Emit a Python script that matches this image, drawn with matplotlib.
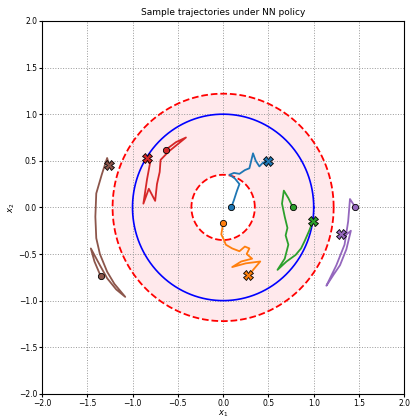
import numpy as np
import matplotlib
matplotlib.use("Agg")
import matplotlib.pyplot as plt

blue_x = [0.09, 0.12, 0.15, 0.18, 0.13, 0.07, 0.12, 0.18, 0.24, 0.29, 0.31, 0.33, 0.36, 0.40, 0.44, 0.49]
blue_y = [0.00, 0.08, 0.17, 0.25, 0.31, 0.35, 0.37, 0.36, 0.40, 0.42, 0.50, 0.58, 0.50, 0.44, 0.48, 0.50]
orange_x = [0.00, -0.02, 0.01, 0.03, 0.10, 0.18, 0.24, 0.29, 0.26, 0.32, 0.20, 0.10, 0.25, 0.41, 0.34, 0.28]
orange_y = [-0.17, -0.29, -0.35, -0.40, -0.44, -0.47, -0.42, -0.44, -0.50, -0.55, -0.58, -0.64, -0.60, -0.58, -0.66, -0.73]
green_x = [0.77, 0.72, 0.67, 0.65, 0.68, 0.71, 0.69, 0.72, 0.68, 0.60, 0.70, 0.80, 0.86, 0.90, 0.95, 0.99]
green_y = [0.00, 0.10, 0.18, 0.04, -0.10, -0.22, -0.30, -0.40, -0.55, -0.67, -0.58, -0.51, -0.44, -0.36, -0.25, -0.15]
purple_x = [1.46, 1.40, 1.38, 1.34, 1.25, 1.14, 1.22, 1.29, 1.36, 1.41, 1.35, 1.30]
purple_y = [0.00, 0.09, -0.15, -0.40, -0.62, -0.84, -0.72, -0.62, -0.45, -0.25, -0.30, -0.28]
red_x = [-0.63, -0.52, -0.41, -0.60, -0.69, -0.70, -0.73, -0.75, -0.82, -0.88, -0.84, -0.80, -0.82, -0.84]
red_y = [0.62, 0.70, 0.75, 0.60, 0.51, 0.38, 0.25, 0.07, 0.20, 0.04, 0.30, 0.51, 0.48, 0.53]
brown_x = [-1.35, -1.42, -1.46, -1.36, -1.28, -1.18, -1.08, -1.20, -1.28, -1.36, -1.40, -1.41, -1.40, -1.34, -1.28, -1.26]
brown_y = [-0.74, -0.58, -0.44, -0.62, -0.76, -0.88, -0.96, -0.82, -0.69, -0.50, -0.33, -0.10, 0.15, 0.35, 0.53, 0.46]

trajs = [(blue_x, blue_y), (orange_x, orange_y), (green_x, green_y),
         (purple_x, purple_y), (red_x, red_y), (brown_x, brown_y)]
colors = ['#1f77b4', '#ff7f0e', '#2ca02c', '#9467bd', '#d62728', '#8c564b']

r_inner, r_target, r_outer = 0.35, 1.0, 1.22

fig = plt.figure(figsize=(4.19, 4.19), dpi=100)
ax = fig.add_axes([0.1, 0.06, 0.865, 0.89])
th = np.linspace(0, 2*np.pi, 400)
xs = np.concatenate([r_outer*np.cos(th), r_inner*np.cos(th[::-1])])
ys = np.concatenate([r_outer*np.sin(th), r_inner*np.sin(th[::-1])])
ax.fill(xs, ys, color='pink', alpha=0.35, lw=0)
ax.plot(r_inner*np.cos(th), r_inner*np.sin(th), 'r--', lw=1.3)
ax.plot(r_outer*np.cos(th), r_outer*np.sin(th), 'r--', lw=1.3)
ax.plot(r_target*np.cos(th), r_target*np.sin(th), color='blue', lw=1.2)
for (x, y), c in zip(trajs, colors):
    ax.plot(x, y, color=c, lw=1.3)
    ax.plot(x[0], y[0], 'o', color=c, mec='k', mew=0.6, ms=4.5)
    ax.plot(x[-1], y[-1], 'X', color=c, mec='k', mew=0.6, ms=7)
ax.set_xlim(-2, 2)
ax.set_ylim(-2, 2)
ax.set_aspect('auto')
ax.grid(True, ls=':', color='#999999', lw=0.7)
ax.set_title('Sample trajectories under NN policy', fontsize=6.5, pad=4)
ax.set_xlabel('$x_1$', fontsize=6, labelpad=0.5)
ax.set_ylabel('$x_2$', fontsize=6, labelpad=1)
ax.tick_params(labelsize=5.5, length=2, pad=1.5)
fig.savefig('out.png', dpi=100)
